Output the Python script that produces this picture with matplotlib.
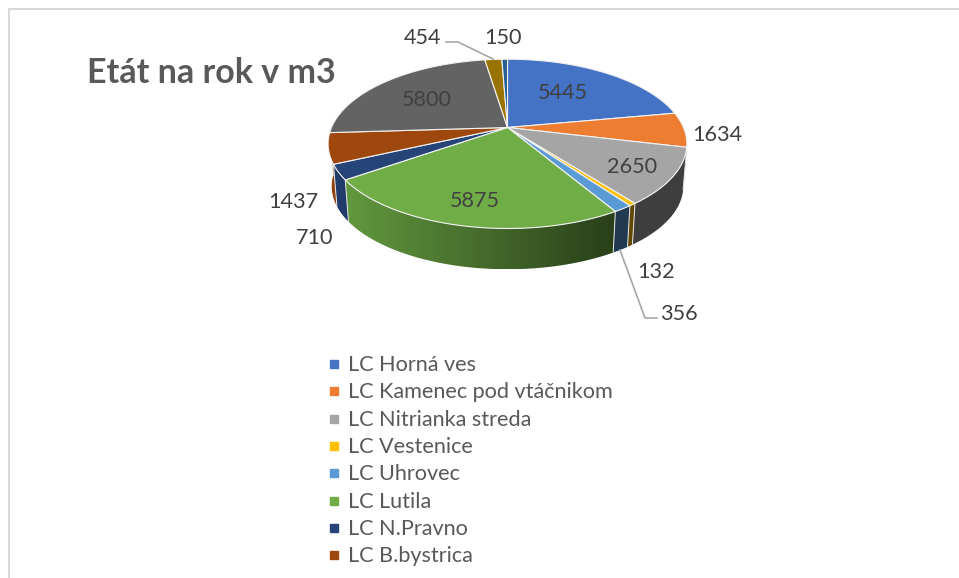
import numpy as np
import matplotlib
matplotlib.use("Agg")
import matplotlib.pyplot as plt
from matplotlib.patches import Polygon

names = ["LC Horná ves", "LC Kamenec pod vtáčnikom", "LC Nitrianka streda", "LC Vestenice",
         "LC Uhrovec", "LC Lutila", "LC N.Pravno", "LC B.bystrica"]
values = [5445, 1634, 2650, 132, 356, 5875, 710, 1437, 5800, 454, 150]
colors = ["#4472C4", "#ED7D31", "#A5A5A5", "#FFC000", "#5B9BD5", "#70AD47",
          "#264478", "#9E480E", "#636363", "#997300", "#255E91"]

plt.rcParams['font.family'] = ['Lato', 'DejaVu Sans']

# pie geometry, in pixels of the picture
cx, cy = 507.5, 127.5
rx, ry = 176, 81.5
persp = 0.193


def project(theta, scale=1.0, drop=0.0):
    # theta is clockwise from the top of the pie
    u = np.sin(theta)
    v = np.cos(theta)
    s = 1 / (1 + persp * v)
    return cx + rx * u * s * scale, cy - ry * v * s * scale + drop


def shade(color, x):
    # walls get darker to the right
    f = np.clip(0.88 - (x - 346) / 261 * 0.5, 0.38, 0.9)
    return np.outer(f, matplotlib.colors.to_rgb(color))


fig = plt.figure(figsize=(9.59, 5.78), dpi=100)
ax = fig.add_axes([0, 0, 1, 1])
ax.axis("off")

edges = np.cumsum([0] + values) / sum(values) * 2 * np.pi

# chart frame
ax.plot([8.5, 8.5, 958], [578, 9, 9], color="#d9d9d9", lw=1.5)

# side walls, only the front part is ever seen
wall_from, wall_to = np.radians(99), np.radians(275)
for i, col in enumerate(colors):
    a0 = max(edges[i], wall_from)
    a1 = min(edges[i + 1], wall_to)
    if a1 <= a0:
        continue
    t = np.linspace(a0, a1, 100)
    xt, yt = project(t)
    xb, yb = project(t, 0.98, 42.8)
    outline = list(zip(xt, yt)) + list(zip(xb[::-1], yb[::-1]))
    xs = [p[0] for p in outline]
    ys = [p[1] for p in outline]
    grad_x = np.linspace(min(xs), max(xs), 200)
    im = ax.imshow(shade(col, grad_x)[np.newaxis, :, :], aspect="auto", interpolation="bilinear",
                   extent=[min(xs), max(xs), max(ys), min(ys)], zorder=2)
    im.set_clip_path(Polygon(outline, transform=ax.transData))
    # thin light seam between wall pieces
    if edges[i] >= wall_from:
        ax.plot([xt[0], xb[0]], [yt[0], yb[0]], color="#e8e8e8", lw=0.7, zorder=3)

# top face
for i, col in enumerate(colors):
    t = np.linspace(edges[i], edges[i + 1], 120)
    xt, yt = project(t)
    pts = [(cx, cy)] + list(zip(xt, yt))
    ax.add_patch(Polygon(pts, facecolor=col, edgecolor="#f2f2f2", lw=0.8, joinstyle="round", zorder=4))

# data labels
label_x = [563, 717, 632, 656, 679, 475, 315, 293, 427, 423, 503]
label_y = [93, 135, 167, 272, 314, 201, 238, 202, 100, 38, 38]
for val, x, y in zip(values, label_x, label_y):
    ax.text(x, y, str(val), ha="center", va="center", fontsize=15.6, color="#404040", zorder=6)

# leader lines
ax.plot([446, 458, 493], [42, 42, 59], color="#a6a6a6", lw=1.2, zorder=5)
ax.plot([620, 645, 657], [250, 318, 318], color="#a6a6a6", lw=1.2, zorder=5)

ax.text(87, 73, "Etát na rok v m3", ha="left", va="center", fontsize=24.5, fontweight="bold", color="#595959")

# legend
for i, name in enumerate(names):
    y = 364 + i * 27.3
    ax.plot([334], [y], marker="s", ms=5.5, color=colors[i], ls="none")
    ax.text(348, y + 1, name, ha="left", va="center", fontsize=15.6, color="#595959")

ax.set_xlim(0, 959)
ax.set_ylim(578, 0)

fig.savefig("out.png", dpi=100)
